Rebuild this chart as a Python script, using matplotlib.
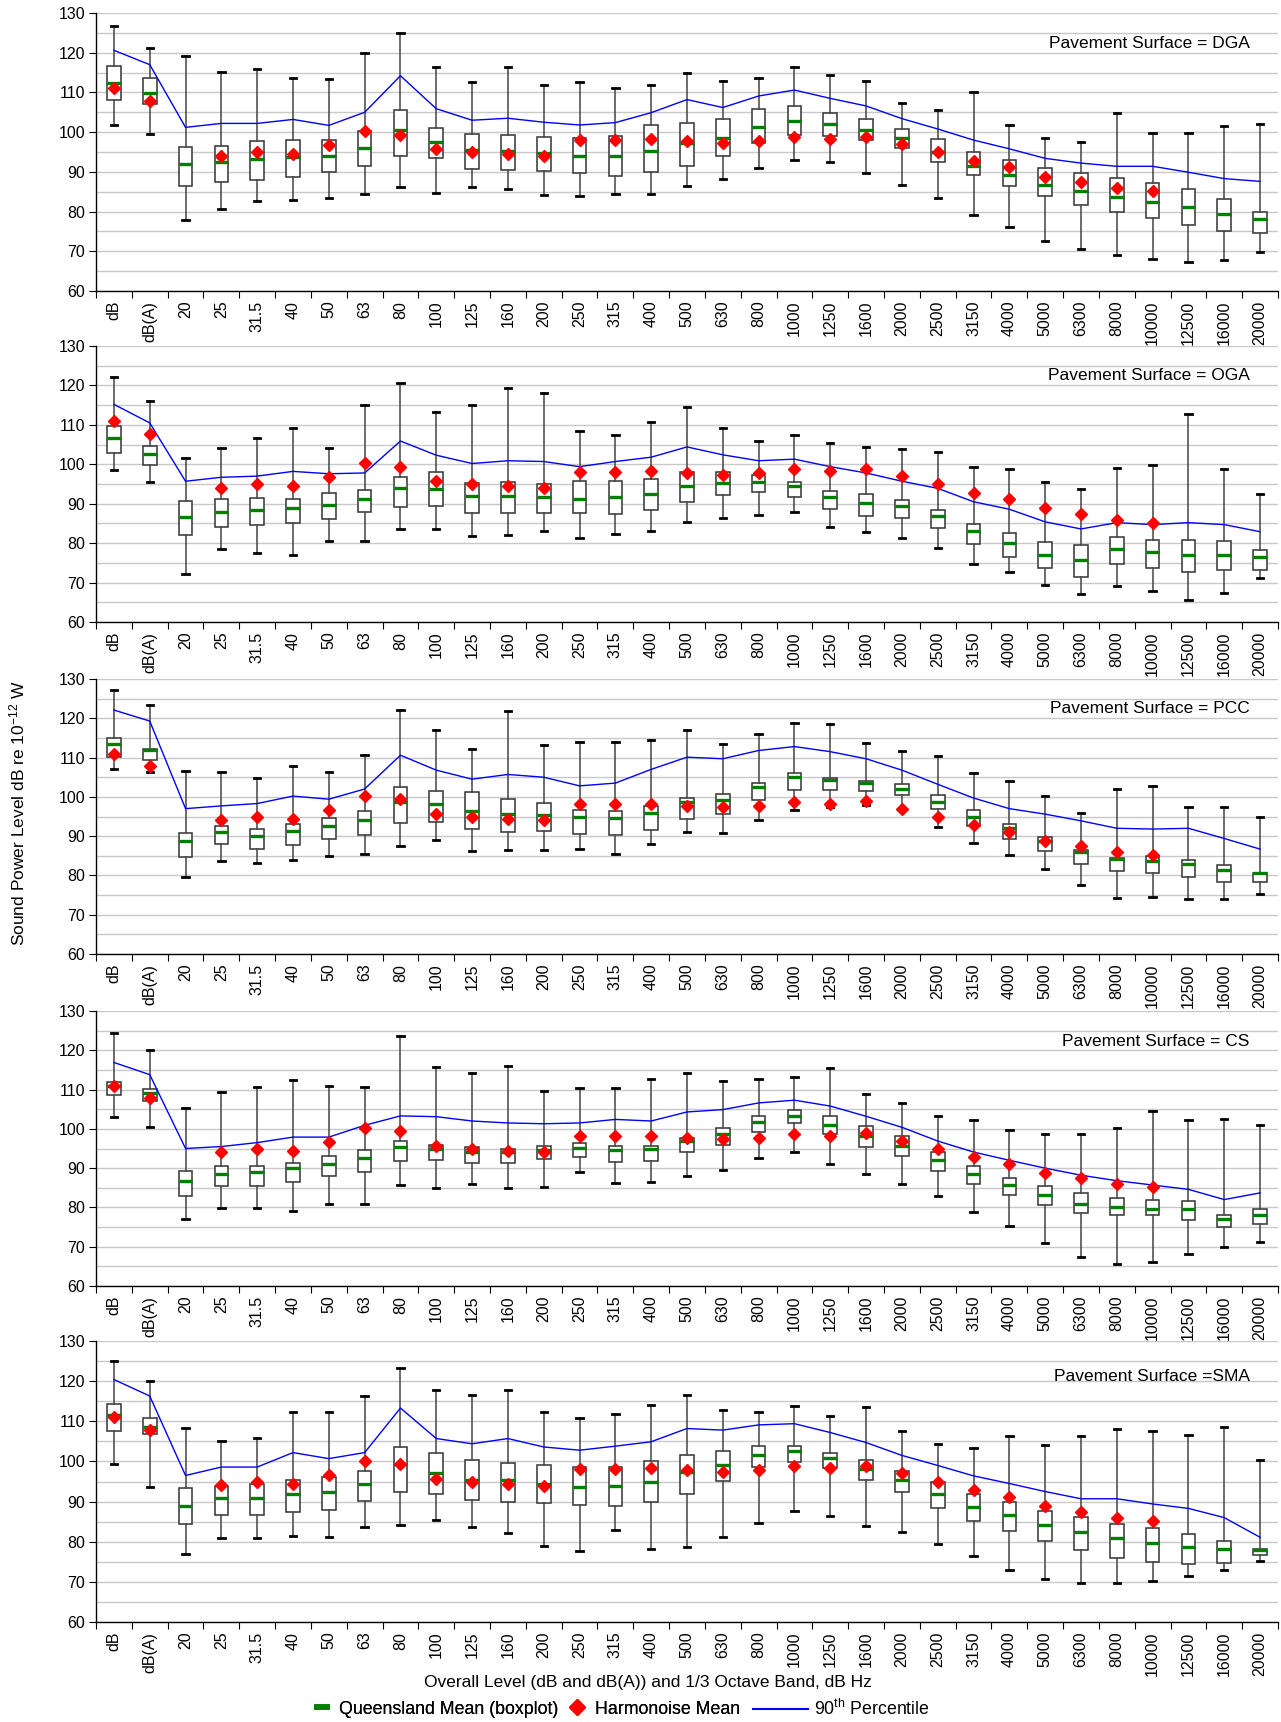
import numpy as np
import matplotlib
matplotlib.use("Agg")
import matplotlib.pyplot as plt
from matplotlib.lines import Line2D

plt.rcParams['font.family'] = ['Liberation Sans', 'DejaVu Sans']
plt.rcParams['mathtext.default'] = 'regular'

nan = np.nan

bands = ['dB', 'dB(A)', '20', '25', '31.5', '40', '50', '63', '80', '100', '125', '160',
         '200', '250', '315', '400', '500', '630', '800', '1000', '1250', '1600', '2000',
         '2500', '3150', '4000', '5000', '6300', '8000', '10000', '12500', '16000', '20000']

# Harmonoise mean (same in every panel)
harmonoise = [111.0, 107.8, nan, 94.1, 94.9, 94.4, 96.7, 100.2, 99.4, 95.7, 94.9, 94.4, 94.0,
              98.1, 98.1, 98.3, 97.8, 97.3, 97.8, 98.8, 98.3, 98.9, 97.0, 94.9, 92.8, 91.1,
              88.8, 87.5, 85.9, 85.1, nan, nan, nan]

# DGA
dga_high = [126.8, 121.1, 119.2, 115.2, 115.8, 113.7, 113.5, 120.0, 125.0, 116.5, 112.6, 116.3, 111.8,
            112.6, 111.2, 111.8, 115.0, 112.9, 113.7, 116.3, 114.5, 112.9, 107.4, 105.7, 110.2, 101.8,
            98.4, 97.4, 104.7, 99.7, 99.9, 101.6, 102.1]
dga_q3 = [116.7, 113.6, 96.3, 96.6, 97.7, 98.0, 98.0, 100.3, 105.5, 101.1, 99.6, 99.3, 98.7, 98.5,
          99.0, 101.7, 102.4, 103.2, 105.9, 106.7, 104.9, 103.3, 100.8, 98.3, 95.0, 93.0, 90.9, 89.8,
          88.4, 87.3, 85.6, 83.2, 79.8]
dga_mean = [112.4, 109.9, 91.9, 92.6, 93.2, 93.7, 94.0, 96.0, 100.5, 97.6, 95.4, 95.2, 94.8, 93.9,
            93.9, 95.2, 97.3, 98.4, 101.3, 102.8, 102.1, 100.6, 98.4, 94.9, 91.6, 89.2, 86.8, 85.3,
            83.6, 82.4, 81.1, 79.5, 78.1]
dga_q1 = [108.2, 107.0, 86.5, 87.5, 88.0, 88.8, 89.9, 91.4, 94.1, 93.5, 90.8, 90.4, 90.1, 89.6, 89.0,
          89.9, 91.6, 94.0, 97.2, 99.4, 99.1, 98.0, 96.1, 92.5, 89.3, 86.4, 84.0, 81.7, 79.8, 78.3,
          76.5, 75.1, 74.6]
dga_low = [101.8, 99.5, 77.9, 80.6, 82.6, 83.0, 83.4, 84.4, 86.2, 84.6, 86.2, 85.6, 84.1, 83.9, 84.4,
           84.4, 86.5, 88.3, 91.0, 93.1, 92.4, 89.7, 86.6, 83.4, 79.2, 76.2, 72.6, 70.5, 69.0, 68.1,
           67.4, 67.9, 69.7]
dga_p90 = [120.6, 117.0, 101.2, 102.2, 102.2, 103.2, 101.7, 105.0, 114.2, 105.9, 103.0, 103.5, 102.5,
           101.8, 102.4, 104.9, 108.2, 106.2, 109.1, 110.6, 108.5, 106.6, 103.4, 100.8, 98.0, 95.8,
           93.4, 92.2, 91.4, 91.4, 89.9, 88.3, 87.6]

# OGA
oga_high = [122.2, 116.1, 101.7, 104.1, 106.7, 109.2, 104.1, 115.1, 120.7, 113.3, 115.1, 119.4, 118.1,
            108.5, 107.4, 110.6, 114.6, 109.1, 105.8, 107.4, 105.3, 104.5, 103.8, 103.0, 99.3, 98.8,
            95.6, 93.8, 99.1, 99.8, 112.8, 98.8, 92.5]
oga_q3 = [109.7, 104.7, 90.6, 91.1, 91.4, 91.1, 92.8, 93.6, 96.7, 98.1, 95.2, 95.5, 94.9, 95.7, 95.7,
          96.2, 98.1, 98.1, 97.3, 95.5, 93.3, 92.5, 91.0, 88.4, 84.9, 82.5, 80.2, 79.6, 81.5, 80.8,
          80.8, 80.5, 78.3]
oga_mean = [106.7, 102.5, 86.6, 87.9, 88.4, 89.0, 89.8, 91.1, 94.0, 93.8, 91.9, 91.9, 91.7, 91.3, 91.7,
            92.4, 94.6, 95.3, 95.6, 94.4, 91.7, 90.3, 89.3, 86.9, 83.0, 80.1, 77.1, 75.6, 78.5, 77.7,
            77.1, 77.1, 76.4]
oga_q1 = [102.9, 99.7, 82.0, 84.1, 84.6, 85.2, 86.2, 87.9, 89.1, 89.4, 87.6, 87.6, 87.6, 87.6, 87.3,
          88.4, 90.5, 92.3, 93.0, 91.7, 88.6, 86.8, 86.5, 83.9, 79.9, 76.5, 73.6, 71.5, 74.8, 73.8,
          72.7, 73.3, 73.1]
oga_low = [98.5, 95.5, 72.3, 78.6, 77.6, 77.1, 80.6, 80.6, 83.7, 83.5, 81.9, 82.1, 83.0, 81.4, 82.4,
           83.0, 85.3, 86.3, 87.2, 87.8, 84.2, 82.7, 81.4, 78.7, 74.7, 72.7, 69.4, 67.1, 69.2, 67.9,
           65.5, 67.3, 71.1]
oga_p90 = [115.2, 110.5, 95.7, 96.7, 97.0, 98.2, 97.6, 97.8, 105.9, 102.3, 100.2, 100.9, 100.7, 99.4,
           100.7, 101.8, 104.4, 102.4, 100.9, 101.3, 99.4, 97.8, 95.7, 93.9, 90.5, 88.6, 85.4, 83.6,
           85.2, 84.7, 85.2, 84.7, 82.9]

# PCC
pcc_high = [127.3, 123.3, 106.6, 106.4, 104.8, 107.9, 106.4, 110.6, 122.2, 116.9, 112.2, 121.9, 113.3,
            113.9, 113.9, 114.6, 116.9, 113.4, 116.1, 118.8, 118.5, 113.8, 111.6, 110.3, 106.2, 104.0,
            100.1, 95.8, 101.9, 102.7, 97.4, 97.4, 94.8]
pcc_q3 = [114.9, 112.3, 90.9, 92.6, 91.7, 93.0, 94.5, 96.4, 102.5, 101.5, 101.2, 99.4, 98.4, 96.7,
          96.4, 97.7, 99.8, 100.8, 103.5, 106.0, 104.8, 104.0, 103.3, 100.4, 96.7, 93.2, 89.8, 86.6,
          84.5, 84.9, 84.0, 82.6, 80.6]
pcc_mean = [113.5, 112.0, 88.7, 91.0, 90.0, 91.4, 92.7, 94.0, 98.6, 98.2, 96.4, 95.6, 95.3, 94.8,
            94.5, 95.8, 98.7, 99.2, 102.4, 105.1, 104.2, 103.5, 102.1, 98.8, 94.8, 92.0, 88.7, 85.9,
            84.3, 83.7, 82.9, 81.3, 80.5]
pcc_q1 = [110.1, 109.5, 84.7, 88.0, 86.8, 87.8, 89.3, 90.4, 93.3, 93.6, 91.8, 91.0, 91.2, 90.6, 90.4,
          91.5, 94.4, 95.7, 99.1, 101.8, 101.8, 101.4, 100.4, 96.8, 92.6, 89.3, 86.1, 82.9, 81.1,
          80.6, 79.6, 78.4, 78.4]
pcc_low = [107.2, 106.4, 79.5, 83.7, 83.1, 83.9, 85.0, 85.5, 87.4, 88.9, 86.3, 86.6, 86.6, 86.8,
           85.5, 88.1, 91.0, 90.8, 94.2, 96.6, 97.5, 97.9, 96.6, 92.4, 88.2, 85.3, 81.6, 77.6, 74.2,
           74.5, 73.9, 73.9, 75.3]
pcc_p90 = [122.1, 119.3, 97.0, 97.7, 98.3, 100.2, 99.4, 102.0, 110.6, 106.8, 104.5, 105.7, 105.0,
           102.8, 103.5, 107.0, 110.1, 109.7, 111.8, 112.8, 111.5, 109.7, 106.8, 103.2, 99.7, 97.0,
           95.6, 93.9, 92.0, 91.8, 92.0, 89.4, 86.7]

# CS
cs_high = [124.4, 120.2, 105.3, 109.4, 110.7, 112.5, 110.9, 110.7, 123.6, 115.7, 114.1, 116.0, 109.6,
           110.4, 110.4, 112.8, 114.2, 112.2, 112.8, 113.3, 115.4, 108.8, 106.7, 103.2, 102.2, 99.6,
           98.7, 98.7, 100.3, 104.6, 102.2, 102.5, 101.1]
cs_q3 = [111.9, 110.1, 89.2, 90.6, 90.6, 91.2, 93.0, 94.6, 96.8, 96.0, 95.4, 94.9, 95.6, 96.3, 95.7,
         95.7, 97.8, 100.1, 103.3, 104.7, 103.3, 100.7, 98.1, 94.1, 90.5, 87.5, 85.4, 83.7, 82.5,
         82.0, 81.6, 78.0, 79.6]
cs_mean = [110.9, 109.2, 86.8, 88.6, 89.0, 90.0, 91.0, 92.7, 95.3, 95.0, 94.2, 94.0, 94.7, 95.1, 94.5,
           94.8, 97.0, 98.7, 101.7, 103.2, 101.1, 98.3, 95.6, 92.0, 88.5, 85.8, 83.1, 81.0, 80.0,
           79.7, 79.5, 77.0, 78.2]
cs_q1 = [108.6, 107.0, 82.8, 85.4, 85.4, 86.4, 88.1, 89.1, 91.7, 92.0, 91.2, 91.2, 92.3, 92.8, 91.5,
         91.8, 94.1, 96.0, 99.2, 101.5, 98.6, 95.4, 93.0, 89.3, 85.9, 83.2, 80.6, 78.6, 78.0, 78.2,
         76.9, 75.0, 75.7]
cs_low = [103.0, 100.6, 77.0, 79.9, 79.9, 79.2, 80.8, 80.8, 85.8, 85.0, 86.0, 85.0, 85.3, 88.9, 86.3,
          86.6, 88.1, 89.5, 92.7, 94.2, 91.0, 88.6, 86.0, 82.9, 78.9, 75.4, 71.0, 67.5, 65.7, 66.0,
          68.2, 69.9, 71.3]
cs_p90 = [116.9, 113.8, 95.0, 95.5, 96.5, 97.9, 97.9, 100.9, 103.3, 103.1, 102.0, 101.5, 101.3,
          101.5, 102.4, 102.0, 104.3, 104.9, 106.6, 107.3, 105.8, 103.2, 100.4, 96.9, 94.1, 92.0,
          90.0, 88.2, 86.8, 85.7, 84.6, 82.0, 83.7]

# SMA
sma_high = [125.1, 120.0, 108.4, 105.1, 105.8, 112.2, 112.2, 116.4, 123.3, 117.7, 116.6, 117.9, 112.2,
            110.8, 111.9, 114.0, 116.6, 112.7, 112.2, 113.7, 111.4, 113.5, 107.5, 104.3, 103.4, 106.3,
            104.0, 106.3, 108.2, 107.5, 106.6, 108.5, 100.3]
sma_q3 = [114.4, 110.7, 93.3, 94.0, 94.5, 95.4, 96.1, 97.7, 103.6, 102.2, 100.4, 99.6, 99.0, 98.6,
          98.6, 100.1, 101.5, 102.5, 103.8, 103.8, 102.2, 100.4, 97.5, 94.8, 91.9, 90.0, 87.7, 86.1,
          84.3, 83.4, 81.9, 80.3, 78.2]
sma_mean = [111.6, 108.7, 88.9, 90.8, 90.8, 91.8, 92.3, 94.4, 99.3, 97.1, 95.4, 95.3, 94.5, 93.7,
            94.0, 94.9, 97.4, 99.0, 101.6, 102.7, 100.9, 98.2, 95.3, 91.8, 88.7, 86.6, 84.1, 82.3,
            81.0, 79.7, 78.7, 78.1, 77.9]
sma_q1 = [107.6, 106.9, 84.5, 86.7, 86.7, 87.4, 87.9, 90.1, 92.5, 92.0, 90.4, 89.8, 89.6, 89.1, 88.8,
          89.8, 92.0, 95.1, 98.7, 99.8, 98.4, 95.4, 92.5, 88.5, 85.1, 82.7, 80.3, 77.9, 76.0, 75.0,
          74.5, 74.8, 76.7]
sma_low = [99.4, 93.7, 77.0, 80.9, 80.9, 81.5, 81.2, 83.6, 84.2, 85.5, 83.6, 82.1, 78.9, 77.8, 82.8,
           78.3, 78.6, 81.2, 84.6, 87.6, 86.3, 83.9, 82.3, 79.4, 76.5, 73.0, 70.6, 69.6, 69.6, 70.1,
           71.5, 73.0, 75.1]
sma_p90 = [120.4, 116.3, 96.5, 98.6, 98.6, 102.2, 100.7, 102.2, 113.3, 105.7, 104.4, 105.7, 103.6,
           102.8, 103.8, 104.9, 108.2, 107.8, 109.1, 109.4, 107.2, 104.7, 101.5, 99.0, 96.4, 94.5,
           92.5, 90.7, 90.7, 89.4, 88.3, 86.0, 81.1]

panels = [
    ("Pavement Surface = DGA", dga_low, dga_q1, dga_mean, dga_q3, dga_high, dga_p90, 122.4),
    ("Pavement Surface = OGA", oga_low, oga_q1, oga_mean, oga_q3, oga_high, oga_p90, 122.5),
    ("Pavement Surface = PCC", pcc_low, pcc_q1, pcc_mean, pcc_q3, pcc_high, pcc_p90, 122.5),
    ("Pavement Surface = CS", cs_low, cs_q1, cs_mean, cs_q3, cs_high, cs_p90, 122.2),
    ("Pavement Surface =SMA", sma_low, sma_q1, sma_mean, sma_q3, sma_high, sma_p90, 121.2),
]
# panel top/bottom in pixels from the top of the figure
panel_px = [(13, 291), (346, 622), (679, 954), (1011, 1286), (1341, 1622)]

W, H = 1281, 1722
fig = plt.figure(figsize=(W / 100, H / 100), dpi=100)

x = np.arange(len(bands))
for (title, lo, q1, mn, q3, hi, p90, ty), (top, bot) in zip(panels, panel_px):
    ax = fig.add_axes([96 / W, 1 - bot / H, (1278 - 96) / W, (bot - top) / H])
    stats = [dict(med=mn[i], q1=q1[i], q3=q3[i], whislo=lo[i], whishi=hi[i], fliers=[])
             for i in range(len(bands))]
    ax.bxp(stats, positions=x, widths=0.38, capwidths=0.18, showfliers=False,
           patch_artist=True,
           boxprops=dict(facecolor='white', edgecolor='#333333', linewidth=1.1),
           whiskerprops=dict(color='#444444', linewidth=1.1),
           capprops=dict(color='black', linewidth=2.0),
           medianprops=dict(color='#008000', linewidth=2.4),
           manage_ticks=False, zorder=2)
    ax.plot(x, p90, color='#0000ff', lw=1.0, zorder=3)
    ax.plot(x, harmonoise, 'D', color='#ff0000', ms=6.5, ls='none', zorder=4)

    ax.set_xlim(-0.5, len(bands) - 0.5)
    ax.set_ylim(60, 130)
    ax.set_yticks(np.arange(60, 131, 10))
    ax.set_yticks(np.arange(65, 130, 10), minor=True)
    ax.yaxis.grid(True, which='both', color='#c8c8c8', lw=1.0)
    ax.set_axisbelow(True)
    ax.tick_params(axis='y', which='major', direction='out', length=5, labelsize=11.5, pad=3)
    ax.tick_params(axis='y', which='minor', length=0)

    ax.set_xticks(np.arange(-0.5, len(bands), 1.0))
    ax.set_xticklabels([])
    ax.set_xticks(x, minor=True)
    ax.set_xticklabels(bands, minor=True, rotation=90)
    ax.tick_params(axis='x', which='major', direction='out', length=5)
    ax.tick_params(axis='x', which='minor', length=0, labelsize=11.5, pad=7)

    for s in ['top', 'right']:
        ax.spines[s].set_visible(False)
    ax.spines['left'].set_linewidth(1.0)
    ax.spines['bottom'].set_linewidth(1.0)

    ax.text(0.976, ty, title, transform=ax.get_yaxis_transform(), ha='right', va='center',
            fontsize=12.5)

fig.text(17 / W, 1 - 813 / H, "Sound Power Level dB re 10$^{-12}$ W", rotation=90,
         ha='center', va='center', fontsize=12.5)
fig.text(648 / W, 1 - 1683 / H, "Overall Level (dB and dB(A)) and 1/3 Octave Band, dB Hz",
         ha='center', va='center', fontsize=12.5)

# legend: marker entries and the line entry use different handle lengths
leg_y = 1 - 1709 / H
marker_handles = [
    Line2D([], [], color='#008000', marker='_', ms=12, mew=4, ls='none'),
    Line2D([], [], color='#ff0000', marker='D', ms=8, ls='none'),
]
leg1 = fig.legend(marker_handles, ["Queensland Mean (boxplot)", "Harmonoise Mean"],
                  loc='center left', bbox_to_anchor=(311 / W, leg_y), ncol=2, frameon=False,
                  fontsize=12.8, handlelength=1.2, handletextpad=0.4, columnspacing=0.45,
                  borderpad=0, borderaxespad=0)
fig.add_artist(leg1)
fig.legend([Line2D([], [], color='#0000ff', lw=1.5)], ["90$^{th}$ Percentile"],
           loc='center left', bbox_to_anchor=(753 / W, leg_y), frameon=False,
           fontsize=12.8, handlelength=3.1, handletextpad=0.35, borderpad=0, borderaxespad=0)

fig.savefig("out.png", dpi=100)
